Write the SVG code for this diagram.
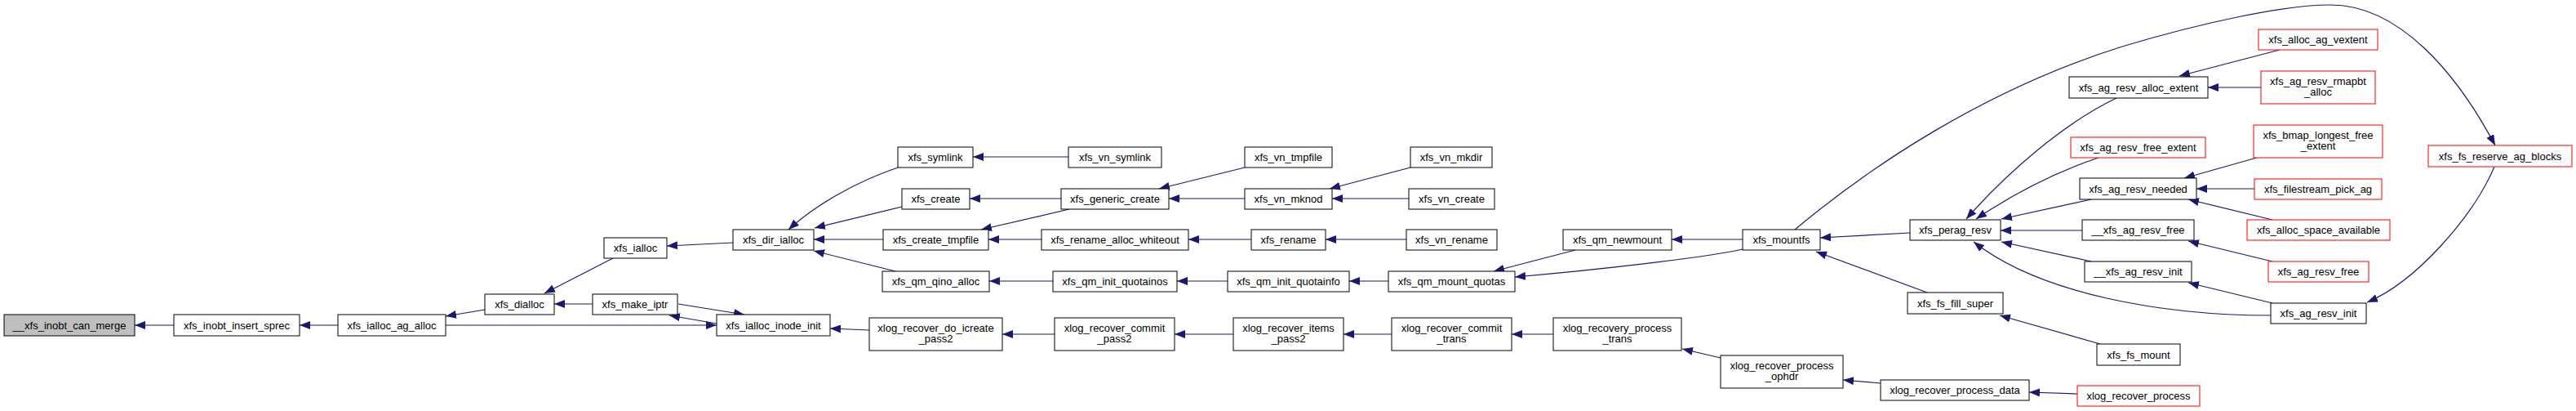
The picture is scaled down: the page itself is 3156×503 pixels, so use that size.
<svg xmlns="http://www.w3.org/2000/svg" width="3156" height="503" viewBox="0 0 3156 503">
<defs>
<style>
.n rect{fill:#ffffff;stroke:#000000;stroke-width:1}
.r rect{stroke:#ff0000}
.g rect{fill:#bfbfbf}
text{font-family:"Liberation Sans",Arial,Helvetica,sans-serif;font-size:13px;text-anchor:middle;fill:#000000}
.e path{fill:none;stroke:#191970;stroke-width:1.2;marker-end:url(#a)}
</style>
<marker id="a" markerUnits="userSpaceOnUse" markerWidth="13" markerHeight="10" refX="13" refY="5" orient="auto" viewBox="0 0 13 10"><path d="M0,0 L13,5 L0,10 z" fill="#191970"/></marker>
</defs>
<rect width="3156" height="503" fill="#ffffff"/>
<g id="edges" class="e">
<path d="M213,398 L165,398"/>
<path d="M414,398 L367,398"/>
<path d="M594,379 L546,387"/>
<path d="M546,398 L878,398"/>
<path d="M726,372 L679,372"/>
<path d="M751,316 L667,359"/>
<path d="M898,297 L817,301"/>
<path d="M831,372 L912,385"/>
<path d="M878,396 L820,386"/>
<path d="M1065,404 L1017,402"/>
<path d="M1100,205 C1050,222 1000,250 966,281"/>
<path d="M1105,253 L998,279"/>
<path d="M1082,293 L997,293"/>
<path d="M1097,332 L997,307"/>
<path d="M1309,192 L1192,192"/>
<path d="M1300,243 L1188,243"/>
<path d="M1525,205 L1420,231"/>
<path d="M1525,243 L1432,243"/>
<path d="M1728,205 L1629,231"/>
<path d="M1726,243 L1632,243"/>
<path d="M1310,256 L1202,281"/>
<path d="M1276,293 L1211,293"/>
<path d="M1533,293 L1456,293"/>
<path d="M1723,293 L1624,293"/>
<path d="M1290,344 L1212,344"/>
<path d="M1504,344 L1442,344"/>
<path d="M1701,344 L1653,344"/>
<path d="M1930,306 L1830,332"/>
<path d="M2135,293 L2048,293"/>
<path d="M2135,305 C2090,315 1960,330 1856,339"/>
<path d="M1292,409 L1228,409"/>
<path d="M1511,409 L1439,409"/>
<path d="M1705,409 L1646,409"/>
<path d="M1903,409 L1852,409"/>
<path d="M2108,438 L2061,427"/>
<path d="M2304,469 L2258,465"/>
<path d="M2545,482 L2486,480"/>
<path d="M2340,285 L2230,291"/>
<path d="M2361,358 L2225,308"/>
<path d="M2573,421 L2450,386"/>
<path d="M2199,281 C2290,205 2430,110 2600,57 C2700,27 2800,6 2855,6 C2940,6 3010,90 3057,178"/>
<path d="M3056,204 C3030,265 2960,345 2900,370"/>
<path d="M2593,120 C2530,150 2460,210 2409,268"/>
<path d="M2571,193 C2520,210 2470,235 2421,268"/>
<path d="M2562,244 L2452,268"/>
<path d="M2551,282 L2451,282"/>
<path d="M2562,320 L2452,296"/>
<path d="M2782,386 C2650,386 2500,360 2418,296"/>
<path d="M2793,61 L2670,93"/>
<path d="M2770,107 L2705,107"/>
<path d="M2765,193 L2676,218"/>
<path d="M2762,231 L2691,231"/>
<path d="M2784,269 L2681,244"/>
<path d="M2784,320 L2681,295"/>
<path d="M2784,371 L2681,346"/>
</g>
<g id="n0" class="n g"><rect x="5" y="385" width="160" height="26"/><text x="85" y="402.5">__xfs_inobt_can_merge</text></g>
<g id="n1" class="n"><rect x="213" y="385" width="154" height="26"/><text x="290" y="402.5">xfs_inobt_insert_sprec</text></g>
<g id="n2" class="n"><rect x="414" y="385" width="132" height="26"/><text x="480" y="402.5">xfs_ialloc_ag_alloc</text></g>
<g id="n3" class="n"><rect x="594" y="360" width="85" height="25"/><text x="636.5" y="377">xfs_dialloc</text></g>
<g id="n4" class="n"><rect x="878" y="385" width="139" height="26"/><text x="947.5" y="402.5">xfs_ialloc_inode_init</text></g>
<g id="n5" class="n"><rect x="740" y="291" width="77" height="25"/><text x="778.5" y="308">xfs_ialloc</text></g>
<g id="n6" class="n"><rect x="726" y="360" width="104" height="25"/><text x="778" y="377">xfs_make_iptr</text></g>
<g id="n7" class="n"><rect x="898" y="281" width="99" height="25"/><text x="947.5" y="298">xfs_dir_ialloc</text></g>
<g id="n8" class="n"><rect x="1065" y="389" width="163" height="40"/><text x="1146.5" y="405.5">xlog_recover_do_icreate</text><text x="1146.5" y="418.5">_pass2</text></g>
<g id="n9" class="n"><rect x="1100" y="180" width="92" height="25"/><text x="1146" y="197">xfs_symlink</text></g>
<g id="n10" class="n"><rect x="1105" y="231" width="83" height="25"/><text x="1146.5" y="248">xfs_create</text></g>
<g id="n11" class="n"><rect x="1082" y="281" width="129" height="25"/><text x="1146.5" y="298">xfs_create_tmpfile</text></g>
<g id="n12" class="n"><rect x="1081" y="332" width="131" height="25"/><text x="1146.5" y="349">xfs_qm_qino_alloc</text></g>
<g id="n13" class="n"><rect x="1309" y="180" width="114" height="25"/><text x="1366" y="197">xfs_vn_symlink</text></g>
<g id="n14" class="n"><rect x="1300" y="231" width="132" height="25"/><text x="1366" y="248">xfs_generic_create</text></g>
<g id="n15" class="n"><rect x="1276" y="281" width="180" height="25"/><text x="1366" y="298">xfs_rename_alloc_whiteout</text></g>
<g id="n16" class="n"><rect x="1290" y="332" width="152" height="25"/><text x="1366" y="349">xfs_qm_init_quotainos</text></g>
<g id="n17" class="n"><rect x="1292" y="389" width="147" height="40"/><text x="1365.5" y="405.5">xlog_recover_commit</text><text x="1365.5" y="418.5">_pass2</text></g>
<g id="n18" class="n"><rect x="1525" y="180" width="107" height="25"/><text x="1578.5" y="197">xfs_vn_tmpfile</text></g>
<g id="n19" class="n"><rect x="1525" y="231" width="107" height="25"/><text x="1578.5" y="248">xfs_vn_mknod</text></g>
<g id="n20" class="n"><rect x="1533" y="281" width="91" height="25"/><text x="1578.5" y="298">xfs_rename</text></g>
<g id="n21" class="n"><rect x="1504" y="332" width="149" height="25"/><text x="1578.5" y="349">xfs_qm_init_quotainfo</text></g>
<g id="n22" class="n"><rect x="1511" y="389" width="135" height="40"/><text x="1578.5" y="405.5">xlog_recover_items</text><text x="1578.5" y="418.5">_pass2</text></g>
<g id="n23" class="n"><rect x="1728" y="180" width="100" height="25"/><text x="1778" y="197">xfs_vn_mkdir</text></g>
<g id="n24" class="n"><rect x="1726" y="231" width="105" height="25"/><text x="1778.5" y="248">xfs_vn_create</text></g>
<g id="n25" class="n"><rect x="1723" y="281" width="111" height="25"/><text x="1778.5" y="298">xfs_vn_rename</text></g>
<g id="n26" class="n"><rect x="1701" y="332" width="155" height="25"/><text x="1778.5" y="349">xfs_qm_mount_quotas</text></g>
<g id="n27" class="n"><rect x="1705" y="389" width="147" height="40"/><text x="1778.5" y="405.5">xlog_recover_commit</text><text x="1778.5" y="418.5">_trans</text></g>
<g id="n28" class="n"><rect x="1915" y="281" width="133" height="25"/><text x="1981.5" y="298">xfs_qm_newmount</text></g>
<g id="n29" class="n"><rect x="1903" y="389" width="157" height="40"/><text x="1981.5" y="405.5">xlog_recovery_process</text><text x="1981.5" y="418.5">_trans</text></g>
<g id="n30" class="n"><rect x="2135" y="281" width="95" height="25"/><text x="2182.5" y="298">xfs_mountfs</text></g>
<g id="n31" class="n"><rect x="2108" y="435" width="150" height="40"/><text x="2183" y="451.5">xlog_recover_process</text><text x="2183" y="464.5">_ophdr</text></g>
<g id="n32" class="n"><rect x="2340" y="269" width="111" height="25"/><text x="2395.5" y="286">xfs_perag_resv</text></g>
<g id="n33" class="n"><rect x="2337" y="358" width="117" height="26"/><text x="2395.5" y="375.5">xfs_fs_fill_super</text></g>
<g id="n34" class="n"><rect x="2304" y="465" width="182" height="25"/><text x="2395" y="482">xlog_recover_process_data</text></g>
<g id="n35" class="n"><rect x="2535" y="94" width="170" height="26"/><text x="2620" y="111.5">xfs_ag_resv_alloc_extent</text></g>
<g id="n36" class="n r"><rect x="2537" y="168" width="165" height="25"/><text x="2619.5" y="185">xfs_ag_resv_free_extent</text></g>
<g id="n37" class="n"><rect x="2548" y="218" width="143" height="26"/><text x="2619.5" y="235.5">xfs_ag_resv_needed</text></g>
<g id="n38" class="n"><rect x="2551" y="269" width="137" height="25"/><text x="2619.5" y="286">__xfs_ag_resv_free</text></g>
<g id="n39" class="n"><rect x="2554" y="320" width="131" height="25"/><text x="2619.5" y="337">__xfs_ag_resv_init</text></g>
<g id="n40" class="n"><rect x="2569" y="421" width="102" height="26"/><text x="2620" y="438.5">xfs_fs_mount</text></g>
<g id="n41" class="n r"><rect x="2545" y="472" width="150" height="25"/><text x="2620" y="489">xlog_recover_process</text></g>
<g id="n42" class="n r"><rect x="2767" y="36" width="146" height="25"/><text x="2840" y="53">xfs_alloc_ag_vextent</text></g>
<g id="n43" class="n r"><rect x="2770" y="87" width="140" height="40"/><text x="2840" y="103.5">xfs_ag_resv_rmapbt</text><text x="2840" y="116.5">_alloc</text></g>
<g id="n44" class="n r"><rect x="2761" y="153" width="158" height="40"/><text x="2840" y="169.5">xfs_bmap_longest_free</text><text x="2840" y="182.5">_extent</text></g>
<g id="n45" class="n r"><rect x="2762" y="219" width="156" height="25"/><text x="2840" y="236">xfs_filestream_pick_ag</text></g>
<g id="n46" class="n r"><rect x="2753" y="269" width="175" height="25"/><text x="2840.5" y="286">xfs_alloc_space_available</text></g>
<g id="n47" class="n r"><rect x="2779" y="320" width="123" height="25"/><text x="2840.5" y="337">xfs_ag_resv_free</text></g>
<g id="n48" class="n"><rect x="2782" y="371" width="117" height="25"/><text x="2840.5" y="388">xfs_ag_resv_init</text></g>
<g id="n49" class="n r"><rect x="2975" y="178" width="176" height="26"/><text x="3063" y="195.5">xfs_fs_reserve_ag_blocks</text></g>
</svg>
